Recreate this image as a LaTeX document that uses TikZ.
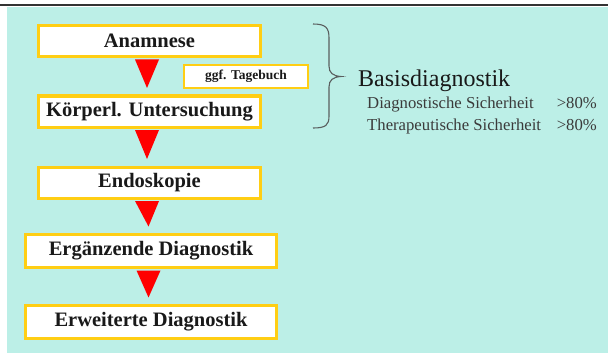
\documentclass[tikz,border=0pt]{standalone}
\usepackage{fontspec}
\setmainfont{Liberation Serif}
\usetikzlibrary{calc}
\definecolor{bgteal}{RGB}{188,239,231}
\definecolor{boxgold}{RGB}{255,206,20}
\definecolor{arrred}{RGB}{255,0,0}
\definecolor{txtdark}{RGB}{25,25,25}
\definecolor{bracegray}{RGB}{90,95,95}
\tikzset{
  stepbox/.style={draw=boxgold, line width=3pt, fill=white, inner sep=0pt,
    minimum height=31pt, text=txtdark,
    font=\bfseries\fontsize{20.5}{24}\selectfont},
  notebox/.style={draw=boxgold, line width=2pt, fill=white, inner sep=0pt,
    minimum width=124pt, minimum height=23pt, text=txtdark,
    font=\bfseries\fontsize{13.5}{16}\selectfont},
  downtri/.style={fill=arrred},
  bracestyle/.style={draw=bracegray, line width=1.1pt},
  bigtxt/.style={anchor=base west, inner sep=0pt, text=txtdark, font=\fontsize{24}{27}\selectfont},
  smalltxt/.style={inner sep=0pt, text=txtdark!85, font=\fontsize{16.7}{20}\selectfont}
}
\begin{document}
\begin{tikzpicture}[x=1pt,y=-1pt]
\useasboundingbox (0,0) rectangle (608,353);
\fill[white] (0,0) rectangle (608,353);
\fill[bgteal] (7,7) rectangle (608,353);
\draw[line width=2pt, black!80] (0,5.5) -- (608,5.5);

\node[stepbox, minimum width=222pt] (a) at (149.5,41) {Anamnese};
\node[notebox] (t) at (246,76.5) {ggf. Tagebuch};
\node[stepbox, minimum width=222pt] (k) at (149.5,111.5) {Körperl. Untersuchung};
\node[stepbox, minimum width=222pt] (e) at (149.5,182.5) {Endoskopie};
\node[stepbox, minimum width=251pt, minimum height=33pt] (g) at (151,251) {Ergänzende Diagnostik};
\node[stepbox, minimum width=251pt, minimum height=33pt] (w) at (151,322) {Erweiterte Diagnostik};

\foreach \u/\v in {a/k,k/e,e/g,g/w}{
  \fill[downtri] ($(\u.south)+(-14.5,1.5)$) -- ($(\u.south)+(9.5,1.5)$)
     -- ($(\v.north)+(-2.5,-6.5)$) -- cycle;
}

\coordinate (bt) at (313,24);
\coordinate (bm) at (341,76.5);
\coordinate (bb) at (313,128);
\draw[bracestyle] (bt) .. controls (326,24) and (329,28) .. (329,38) -- (329,66)
  .. controls (329,73) and (333,76) .. (bm)
  .. controls (333,77) and (329,80) .. (329,87) -- (329,116)
  .. controls (329,125) and (326,128) .. (bb);

\node[bigtxt] (basis) at (358,86) {Basisdiagnostik};
\node[smalltxt, anchor=base west] (d1) at (367,109) {Diagnostische Sicherheit};
\node[smalltxt, anchor=base east] (d2) at (597,109) {>80\%};
\node[smalltxt, anchor=base west] (t1) at (367,130) {Therapeutische Sicherheit};
\node[smalltxt, anchor=base east] (t2) at (597,130) {>80\%};
\end{tikzpicture}
\end{document}
